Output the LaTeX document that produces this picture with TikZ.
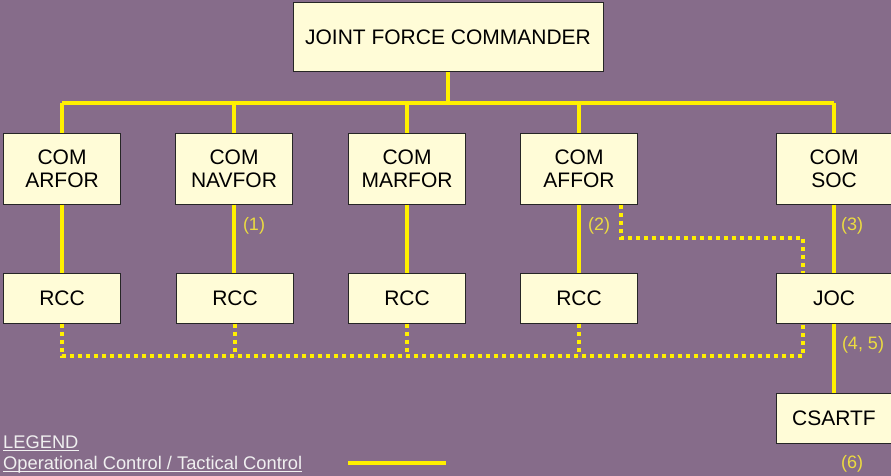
\documentclass[tikz,border=0pt]{standalone}
\usepackage{fontspec}
\setmainfont{Liberation Sans}
\definecolor{bgpurple}{RGB}{134,108,138}
\definecolor{boxfill}{RGB}{255,252,215}
\definecolor{ctrlyellow}{RGB}{255,240,0}
\definecolor{labelyellow}{RGB}{236,220,64}
\definecolor{legendgray}{RGB}{240,240,240}
\begin{document}
\begin{tikzpicture}
  [x=1pt,y=-1pt,
   unit/.style={rectangle,draw=black!85,line width=1pt,fill=boxfill,inner sep=0pt,
     minimum width=117pt,minimum height=70pt,align=center,
     font=\fontsize{21}{22.5}\selectfont},
   cell/.style={unit,minimum height=50pt},
   note/.style={text=labelyellow,inner sep=0pt,font=\fontsize{18}{20}\selectfont},
   legtext/.style={text=legendgray,anchor=base west,inner sep=0pt,font=\fontsize{18.3}{20}\selectfont},
   legrule/.style={draw=legendgray,line width=1pt},
   opcon/.style={draw=ctrlyellow,line width=4pt},
   coord/.style={draw=ctrlyellow,line width=4pt,dash pattern=on 4pt off 4pt}]
  \fill[bgpurple] (0,0) rectangle (891,476);
  \useasboundingbox (0,0) rectangle (891,476);

  \node[unit,minimum width=310pt,minimum height=69pt] (jfc) at (448,37.5) {JOINT FORCE COMMANDER};
  \node[unit] (arfor) at (62,169)  {COM\\ARFOR};
  \node[unit] (navfor) at (234,169) {COM\\NAVFOR};
  \node[unit] (marfor) at (407,169) {COM\\MARFOR};
  \node[unit] (affor) at (579,169) {COM\\AFFOR};
  \node[unit,minimum width=116pt] (soc) at (834,169) {COM\\SOC};

  \node[cell] (rcc1) at (62,298)  {RCC};
  \node[cell] (rcc2) at (235,298) {RCC};
  \node[cell] (rcc3) at (407,298) {RCC};
  \node[cell] (rcc4) at (579,298) {RCC};
  \node[cell,minimum width=116pt] (joc) at (834,298) {JOC};
  \node[cell,minimum width=116pt] (csartf) at (834,418) {CSARTF};

  \coordinate (bar) at (448,103);
  \coordinate (joc tl) at ([xshift=-31pt]joc.north);
  \coordinate (joc bl) at ([xshift=-31pt]joc.south);
  \coordinate (bus) at ([yshift=-32pt]joc bl);
  \coordinate (affor br) at ([xshift=42pt]affor.south);

  % command lines
  \path[opcon]
        (jfc) -- (bar)
        (arfor.north |- bar) -- (soc.north |- bar)
        (arfor.north |- bar) -- (arfor)
        (navfor.north |- bar) -- (navfor)
        (marfor.north |- bar) -- (marfor)
        (affor.north |- bar) -- (affor)
        (soc.north |- bar) -- (soc)
        (arfor) -- (rcc1)
        (navfor) -- (navfor |- rcc2.north)
        (marfor) -- (rcc3)
        (affor) -- (rcc4)
        (soc) -- (joc)
        (joc) -- (csartf);

  % coordination lines
  \path[coord]
        (affor br) |- ([yshift=35pt]joc tl) -- (joc tl)
        (rcc1.south) |- (bus) -- (joc bl)
        (rcc2.south) -- (rcc2.south |- bus)
        (rcc3.south) -- (rcc3.south |- bus)
        (rcc4.south) -- (rcc4.south |- bus);

  \node[note] (n1) at (254,226) {(1)};
  \node[note] (n2) at (599,226) {(2)};
  \node[note] (n3) at (852,226) {(3)};
  \node[note] (n45) at (863,345) {(4, 5)};
  \node[note] (n6) at (852,464) {(6)};

  \node[legtext] (legend) at (3,448) {LEGEND};
  \node[legtext] (legopcon) at (3,469) {Operational Control / Tactical Control};
  \path[legrule]
        ([yshift=-2.5pt]legend.base west) -- ([yshift=-2.5pt]legend.base east)
        ([yshift=-2.5pt]legopcon.base west) -- ([yshift=-2.5pt]legopcon.base east);
  \coordinate (leg a) at (348,463);
  \coordinate (leg b) at (446,463);
  \draw[opcon] (leg a) -- (leg b);
\end{tikzpicture}
\end{document}
